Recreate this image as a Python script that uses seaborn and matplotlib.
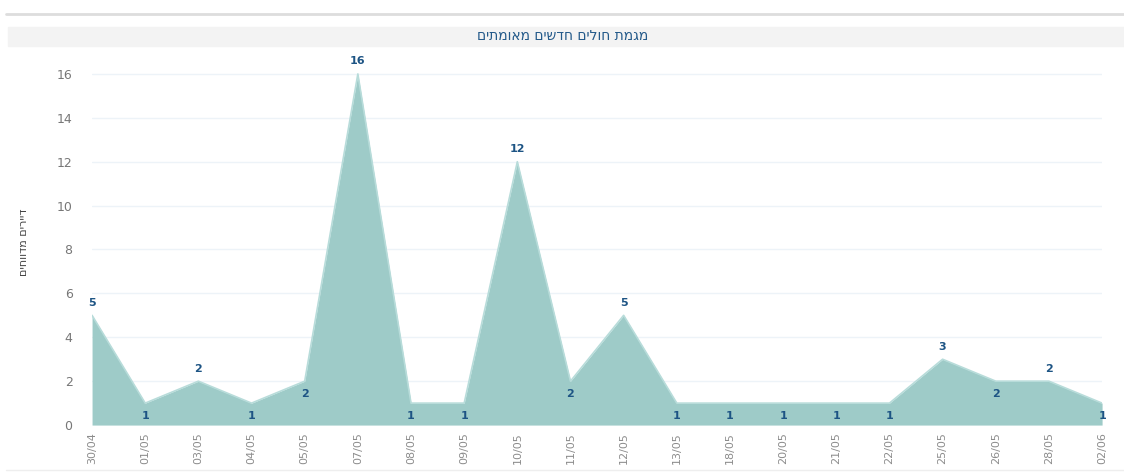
import numpy as np
import pandas as pd
import seaborn as sns
import matplotlib.pyplot as plt
from matplotlib.patches import Rectangle
from matplotlib.lines import Line2D

# נתונים - חולים חדשים מאומתים לפי תאריך
dates = ['30/04', '01/05', '03/05', '04/05', '05/05', '07/05', '08/05', '09/05', '10/05', '11/05',
         '12/05', '13/05', '18/05', '20/05', '21/05', '22/05', '25/05', '26/05', '28/05', '02/06']
cases = [5, 1, 2, 1, 2, 16, 1, 1, 12, 2, 5, 1, 1, 1, 1, 1, 3, 2, 2, 1]
# where each data label sits: 1 = above the point, -1 = below
label_side = [1, -1, 1, -1, -1, 1, -1, -1, 1, -1, 1, -1, -1, -1, -1, -1, 1, -1, 1, -1]

title = 'מגמת חולים חדשים מאומתים'
y_label = 'דיירים מדווחים'

df = pd.DataFrame({'date': dates, 'cases': cases})
df['pos'] = np.arange(len(df))

def rtl(s):
    # matplotlib has no bidi support, reverse hebrew text by hand
    return s[::-1]

sns.set_style('white')
plt.rcParams['font.family'] = ['DejaVu Sans']

fig = plt.figure(figsize=(11.24, 4.76), dpi=100)
ax = fig.add_axes([0.0819, 0.107, 0.8986, 0.770])

ax.fill_between(df['pos'], df['cases'], 0, color='#9ecbc8', linewidth=0)
sns.lineplot(data=df, x='pos', y='cases', ax=ax, color='#b8dcda', linewidth=1.2)

for p, v, s in zip(df['pos'], df['cases'], label_side):
    ax.annotate(str(v), (p, v), xytext=(0, 9 * s), textcoords='offset points',
                ha='center', va='center', fontsize=8,
                fontweight='bold', color='#1d5484')

ax.set_xlim(0, len(df) - 1)
ax.set_ylim(0, 16.7)
ax.set_yticks(range(0, 17, 2))
ax.set_xticks(df['pos'])
ax.set_xticklabels(df['date'], rotation=90, fontsize=8, color='#8c8c8c')
ax.tick_params(axis='y', labelsize=9, colors='#777777', length=0, pad=14)
ax.tick_params(axis='x', length=0, pad=5)
ax.grid(axis='y', color='#edf3f8', linewidth=1)
ax.set_axisbelow(True)
for sp in ax.spines.values():
    sp.set_visible(False)
ax.set_xlabel('')
ax.set_ylabel(rtl(y_label), fontsize=8, color='#444444', labelpad=20)

# header band with title
fig.patches.append(Rectangle((8 / 1124, 1 - 46 / 476), 1, 19 / 476, transform=fig.transFigure,
                             color='#f3f3f3', zorder=0))
fig.lines.append(Line2D([0.005, 1], [1 - 14 / 476] * 2, transform=fig.transFigure,
                        color='#dddddd', linewidth=2))
fig.lines.append(Line2D([0.005, 1], [1 - 470 / 476] * 2, transform=fig.transFigure,
                        color='#eeeeee', linewidth=1))
fig.text(563 / 1124, 1 - 36 / 476, rtl(title), ha='center', va='center', fontsize=10,
         color='#245a8a')

fig.savefig('out.png', dpi=100)
